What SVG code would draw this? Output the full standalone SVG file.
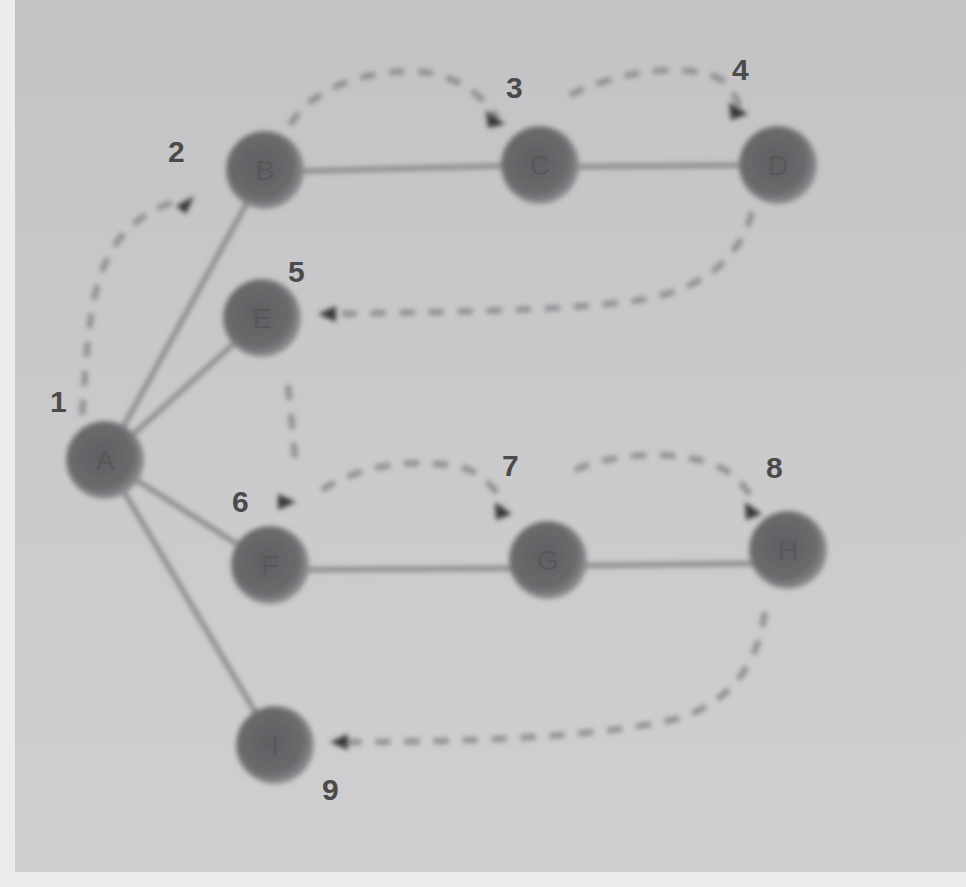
<svg xmlns="http://www.w3.org/2000/svg" width="966" height="887" viewBox="0 0 966 887">
<defs>
<radialGradient id="ng" cx="0.45" cy="0.45" r="0.55">
<stop offset="0" stop-color="#5f5f62"/>
<stop offset="0.75" stop-color="#6a6a6d"/>
<stop offset="1" stop-color="#8e8e91"/>
</radialGradient>
<linearGradient id="bg" x1="0" y1="0" x2="0" y2="1">
<stop offset="0" stop-color="#c3c3c5"/>
<stop offset="0.5" stop-color="#cacacc"/>
<stop offset="1" stop-color="#cfcfd1"/>
</linearGradient>
<filter id="soft" x="-20%" y="-20%" width="140%" height="140%"><feGaussianBlur stdDeviation="2.5"/></filter>
</defs>
<style>
.edge{stroke:#8a898c;stroke-width:5;fill:none}
.dash{stroke:#8f8e92;stroke-width:6;fill:none;stroke-dasharray:15 14}
.node circle{fill:url(#ng)}
.lbl{font-family:"Liberation Sans",Arial,sans-serif;font-size:30px;fill:#4a4a4d;font-weight:bold}
.nl{font-family:"Liberation Sans",Arial,sans-serif;font-size:28px;fill:#58585b;text-anchor:middle;dominant-baseline:central}
</style>
<rect width="966" height="887" fill="#ececec"/>
<rect x="15" y="0" width="951" height="872" fill="url(#bg)"/>
<g id="connectors" filter="url(#soft)">
<line class="edge" x1="105" y1="460" x2="265" y2="170"/>
<line class="edge" x1="105" y1="460" x2="262" y2="318"/>
<line class="edge" x1="105" y1="460" x2="270" y2="565"/>
<line class="edge" x1="105" y1="460" x2="275" y2="745"/>
<line class="edge" x1="265" y1="172" x2="540" y2="165"/>
<line class="edge" x1="540" y1="167" x2="778" y2="165"/>
<line class="edge" x1="270" y1="570" x2="548" y2="568"/>
<line class="edge" x1="548" y1="566" x2="788" y2="563"/>
<path class="dash" d="M82,415 C88,340 88,280 120,238 C140,215 160,205 182,200"/>
<path class="dash" d="M290,125 C320,75 400,65 440,75 C470,85 485,100 498,118"/>
<path class="dash" d="M570,95 C620,70 690,62 722,80 C732,90 738,100 740,108"/>
<path class="dash" d="M752,212 C740,260 700,290 640,300 C560,312 420,312 328,314"/>
<path class="dash" d="M288,385 C292,420 294,450 296,470"/>
<path class="dash" d="M322,490 C360,465 420,455 470,470 C488,480 498,492 505,505"/>
<path class="dash" d="M575,470 C620,450 690,450 725,470 C740,480 750,492 755,505"/>
<path class="dash" d="M765,612 C758,660 735,700 680,718 C600,738 460,742 342,742"/>
<path d="M176,206 L194,196 L186,214 z" fill="#38383b"/>
<path d="M486,110 L505,124 L488,128 z" fill="#38383b"/>
<path d="M729,102 L748,114 L731,120 z" fill="#38383b"/>
<path d="M318,314 L336,306 L336,322 z" fill="#38383b"/>
<path d="M296,502 L278,494 L278,510 z" fill="#38383b"/>
<path d="M495,502 L512,514 L496,520 z" fill="#38383b"/>
<path d="M745,502 L762,514 L746,520 z" fill="#38383b"/>
<path d="M330,742 L348,734 L348,750 z" fill="#38383b"/>
</g>
<g id="nodes">
<g id="node-A" class="node"><circle cx="105" cy="460" r="39" filter="url(#soft)"/><text class="nl" x="105" y="460">A</text></g>
<g id="node-B" class="node"><circle cx="265" cy="170" r="39" filter="url(#soft)"/><text class="nl" x="265" y="170">B</text></g>
<g id="node-C" class="node"><circle cx="540" cy="165" r="39" filter="url(#soft)"/><text class="nl" x="540" y="165">C</text></g>
<g id="node-D" class="node"><circle cx="778" cy="165" r="39" filter="url(#soft)"/><text class="nl" x="778" y="165">D</text></g>
<g id="node-E" class="node"><circle cx="262" cy="318" r="39" filter="url(#soft)"/><text class="nl" x="262" y="318">E</text></g>
<g id="node-F" class="node"><circle cx="270" cy="565" r="39" filter="url(#soft)"/><text class="nl" x="270" y="565">F</text></g>
<g id="node-G" class="node"><circle cx="548" cy="560" r="39" filter="url(#soft)"/><text class="nl" x="548" y="560">G</text></g>
<g id="node-H" class="node"><circle cx="788" cy="550" r="39" filter="url(#soft)"/><text class="nl" x="788" y="550">H</text></g>
<g id="node-I" class="node"><circle cx="275" cy="745" r="39" filter="url(#soft)"/><text class="nl" x="275" y="745">I</text></g>
</g>
<g id="labels">
<text class="lbl" x="50" y="412">1</text>
<text class="lbl" x="168" y="162">2</text>
<text class="lbl" x="506" y="98">3</text>
<text class="lbl" x="732" y="80">4</text>
<text class="lbl" x="288" y="282">5</text>
<text class="lbl" x="232" y="512">6</text>
<text class="lbl" x="502" y="476">7</text>
<text class="lbl" x="766" y="478">8</text>
<text class="lbl" x="322" y="800">9</text>
</g>
</svg>
